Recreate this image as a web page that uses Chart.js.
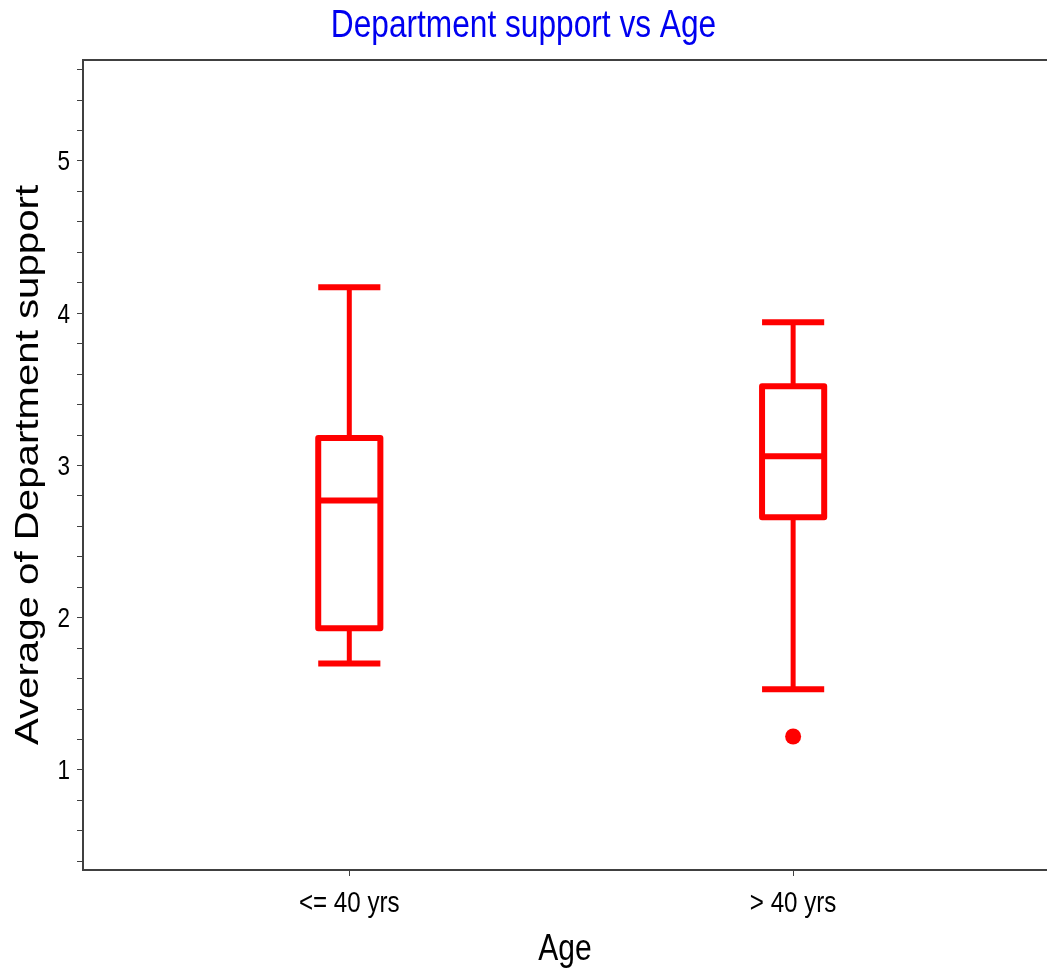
<!DOCTYPE html>
<html>
<head>
<meta charset="utf-8">
<title>Department support vs Age</title>
<script src="https://cdn.jsdelivr.net/npm/chart.js@4.4.0/dist/chart.umd.min.js"></script>
<style>
  html, body { margin: 0; padding: 0; background: #fff; overflow: hidden; }
  .chart-box { width: 1047px; height: 969px; }
</style>
</head>
<body>
<div class="chart-box"><canvas id="myChart"></canvas></div>
<script>
// box plot values
const categories = ["<= 40 yrs", "> 40 yrs"];
const whiskerLow = [1.70, 1.53];
const q1Values = [1.93, 2.66];
const medianValues = [2.77, 3.06];
const q3Values = [3.18, 3.52];
const whiskerHigh = [4.17, 3.94];
const outlierValues = [[], [1.22]];
const yTickLabels = [1, 2, 3, 4, 5];

const chartTitle = "Department support vs Age";
const xTitle = "Age";
const yTitle = "Average of Department support";

const baseFont = '"Liberation Sans", Arial, sans-serif';
const red = "#ff0000";
const frameColor = "#404040";
const boxHalf = 0.07;
const squeeze = 0.833; // the original picture is stretched vertically

// outlier points for the scatter dataset
const outlierPoints = [];
outlierValues.forEach((vals, i) => {
    vals.forEach(v => outlierPoints.push({ x: i + 1, y: v }));
});

// draws text squeezed horizontally, like the narrow-looking original
const drawText = (ctx, text, x, y, size, color, align) => {
    ctx.save();
    ctx.translate(x, y);
    ctx.scale(squeeze, 1);
    ctx.font = size + "px " + baseFont;
    ctx.fillStyle = color;
    ctx.textAlign = align;
    ctx.textBaseline = "alphabetic";
    ctx.fillText(text, 0, 0);
    ctx.restore();
};

const boxPlugin = {
    id: "boxPlot",
    beforeDatasetsDraw(chart) {
        const ctx = chart.ctx;
        const x = chart.scales.x;
        const y = chart.scales.y;
        const line = (x1, y1, x2, y2) => {
            ctx.beginPath();
            ctx.moveTo(x1, y1);
            ctx.lineTo(x2, y2);
            ctx.stroke();
        };
        ctx.save();
        ctx.strokeStyle = red;
        ctx.lineJoin = "round";
        categories.forEach((c, i) => {
            const xc = x.getPixelForValue(i + 1);
            const xl = x.getPixelForValue(i + 1 - boxHalf);
            const xr = x.getPixelForValue(i + 1 + boxHalf);
            const yLo = y.getPixelForValue(whiskerLow[i]);
            const yQ1 = y.getPixelForValue(q1Values[i]);
            const yMed = y.getPixelForValue(medianValues[i]);
            const yQ3 = y.getPixelForValue(q3Values[i]);
            const yHi = y.getPixelForValue(whiskerHigh[i]);

            ctx.lineWidth = 5;
            line(xc, yHi, xc, yQ3);
            line(xc, yQ1, xc, yLo);

            ctx.lineWidth = 6;
            line(xl, yHi, xr, yHi);
            line(xl, yLo, xr, yLo);
            ctx.strokeRect(xl, yQ3, xr - xl, yQ1 - yQ3);
            line(xl, yMed, xr, yMed);
        });
        ctx.restore();
    }
};

const textPlugin = {
    id: "frameAndText",
    afterDraw(chart) {
        const ctx = chart.ctx;
        const a = chart.chartArea;
        const x = chart.scales.x;
        const y = chart.scales.y;

        // frame: left, top, bottom (right side is off the picture)
        ctx.save();
        ctx.strokeStyle = frameColor;
        ctx.lineWidth = 2;
        ctx.beginPath();
        ctx.moveTo(a.right + 2, a.top);
        ctx.lineTo(a.left, a.top);
        ctx.lineTo(a.left, a.bottom);
        ctx.lineTo(a.right + 2, a.bottom);
        ctx.stroke();
        ctx.restore();

        // title
        drawText(ctx, chartTitle, chart.width / 2, 37, 38, "#0000f0", "center");

        // tick labels
        y.ticks.forEach(t => {
            if (yTickLabels.includes(t.value)) {
                drawText(ctx, String(t.value), a.left - 13, y.getPixelForValue(t.value) + 9.5, 27, "#000", "right");
            }
        });
        x.ticks.forEach(t => {
            drawText(ctx, categories[t.value - 1], x.getPixelForValue(t.value), 912, 29, "#000", "center");
        });

        // axis titles
        drawText(ctx, xTitle, (a.left + a.right) / 2, 960, 36, "#000", "center");

        ctx.save();
        ctx.translate(29, (a.top + a.bottom) / 2);
        ctx.rotate(-Math.PI / 2);
        ctx.scale(1.2, 1);
        ctx.font = "33.5px " + baseFont;
        ctx.fillStyle = "#000";
        ctx.textAlign = "center";
        ctx.textBaseline = "middle";
        ctx.fillText(yTitle, 0, 0);
        ctx.restore();
    }
};

const myChart = new Chart("myChart", {
    type: "scatter",
    data: {
        datasets: [{
            label: "Outliers",
            data: outlierPoints,
            backgroundColor: red,
            borderWidth: 0,
            pointRadius: 8,
            pointHoverRadius: 8
        }]
    },
    options: {
        responsive: true,
        maintainAspectRatio: false,
        animation: false,
        layout: { autoPadding: false, padding: { top: 60, left: 0, right: 0, bottom: 0 } },
        plugins: {
            legend: { display: false },
            tooltip: { enabled: false },
            title: { display: false }
        },
        scales: {
            x: {
                type: "linear",
                min: 0.4,
                max: 2.572,
                afterBuildTicks: s => {
                    s.ticks = categories.map((c, i) => ({ value: i + 1 }));
                },
                afterFit: s => { s.height = 99; },
                ticks: { display: false },
                grid: { display: true, drawOnChartArea: false, tickLength: 6, color: frameColor },
                border: { display: false }
            },
            y: {
                type: "linear",
                min: 0.343,
                max: 5.663,
                afterBuildTicks: s => {
                    const t = [];
                    for (let k = 4; k <= 56; k += 2) t.push({ value: k / 10 });
                    s.ticks = t;
                },
                afterFit: s => { s.width = 83; },
                ticks: { display: false },
                grid: { display: true, drawOnChartArea: false, tickLength: 6, color: frameColor },
                border: { display: false }
            }
        }
    },
    plugins: [boxPlugin, textPlugin]
});
</script>
</body>
</html>
